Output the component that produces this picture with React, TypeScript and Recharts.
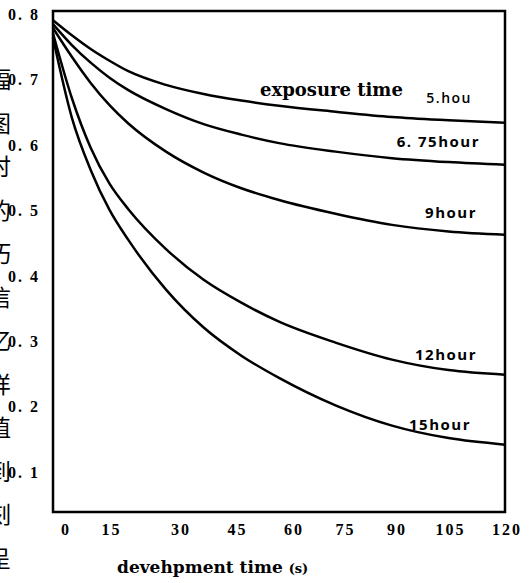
import { LineChart, Line, XAxis, YAxis, ReferenceArea } from 'recharts';

// development time (s)
const TIME_S = [0, 5, 10, 15, 20, 30, 40, 50, 60, 75, 90, 105, 120];

// density, one list per exposure time
const H5 = [0.792, 0.769, 0.748, 0.730, 0.714, 0.693, 0.679, 0.669, 0.661, 0.652, 0.644, 0.639, 0.635];
const H675 = [0.786, 0.754, 0.727, 0.704, 0.685, 0.656, 0.633, 0.617, 0.604, 0.591, 0.581, 0.575, 0.571];
const H9 = [0.780, 0.736, 0.696, 0.662, 0.634, 0.591, 0.559, 0.535, 0.517, 0.496, 0.479, 0.469, 0.464];
const H12 = [0.772, 0.673, 0.597, 0.542, 0.503, 0.442, 0.395, 0.360, 0.331, 0.299, 0.273, 0.257, 0.250];
const H15 = [0.765, 0.643, 0.563, 0.502, 0.456, 0.380, 0.322, 0.279, 0.245, 0.203, 0.172, 0.153, 0.143];

const X_TICKS = [0, 15, 30, 45, 60, 75, 90, 105, 120];
const Y_TICKS = [0.1, 0.2, 0.3, 0.4, 0.5, 0.6, 0.7, 0.8];
const SERIES = ['h5', 'h675', 'h9', 'h12', 'h15'];

// cropped vertical caption at the left edge of the scan
const SIDE_CHARS = ['幅', '图', '时', '的', '巧', '信', '忆', '样', '值', '到', '刻', '呈'];

const data = TIME_S.map((t, i) => ({
  t,
  h5: H5[i],
  h675: H675[i],
  h9: H9[i],
  h12: H12[i],
  h15: H15[i],
}));

const tickFont = {
  fontFamily: '"Liberation Serif", serif',
  fontWeight: 700,
  fontSize: 16,
  letterSpacing: 2,
  fill: '#000',
};

// the printed x labels sit a little right of their ticks
function nudge(v: number) {
  if (v === 0) return 13;
  if (v === 15) return 2;
  if (v <= 60) return 15;
  if (v === 75) return 10;
  if (v === 90) return 5;
  return 2;
}

function XTick({ x, y, payload }: any) {
  const v = payload.value;
  return (
    <text x={x + nudge(v)} y={y + 13} textAnchor="middle" style={tickFont}>
      {v}
    </text>
  );
}

function YTick({ x, y, payload }: any) {
  const label = Number(payload.value).toFixed(1).replace('.', '. ');
  return (
    <text x={x} y={y + 5} textAnchor="end" style={tickFont}>
      {label}
    </text>
  );
}

const hourFont = {
  fontFamily: '"Open Sans", sans-serif',
  fontWeight: 700,
  fontSize: 15,
  letterSpacing: 1.5,
  fill: '#000',
};

export default function App() {
  return (
    <div
      style={{
        position: 'absolute',
        left: 0,
        top: 0,
        width: 529,
        height: 583,
        background: '#fff',
        overflow: 'hidden',
      }}
    >
      <LineChart
        width={529}
        height={583}
        data={data}
        margin={{ top: 11, right: 24, left: 8, bottom: 41 }}
      >
        <XAxis
          dataKey="t"
          type="number"
          domain={[0, 120]}
          ticks={X_TICKS}
          axisLine={false}
          tickLine={false}
          tickSize={0}
          tickMargin={10}
          height={30}
          tick={<XTick />}
          interval={0}
        />
        <YAxis
          type="number"
          domain={[0.04, 0.806]}
          ticks={Y_TICKS}
          allowDataOverflow
          axisLine={false}
          tickLine={false}
          tickSize={0}
          tickMargin={13}
          width={45}
          tick={<YTick />}
          interval={0}
        />
        <ReferenceArea
          x1={0}
          x2={120}
          y1={0.04}
          y2={0.806}
          fill="none"
          stroke="#000"
          strokeWidth={2.5}
        />
        {SERIES.map((key) => (
          <Line
            key={key}
            dataKey={key}
            type="monotone"
            stroke="#000"
            strokeWidth={2.5}
            dot={false}
            activeDot={false}
            isAnimationActive={false}
          />
        ))}
      </LineChart>

      <svg
        width={529}
        height={583}
        style={{ position: 'absolute', left: 0, top: 0, pointerEvents: 'none' }}
      >
        <text
          x={260}
          y={96}
          style={{ fontFamily: '"DejaVu Serif", serif', fontWeight: 700, fontSize: 18, fill: '#000' }}
        >
          exposure time
        </text>
        <text x={472} y={103} textAnchor="end" style={{ ...hourFont, fontWeight: 600, fontSize: 14 }}>
          5.hou
        </text>
        <text x={480} y={147} textAnchor="end" style={hourFont}>
          6. 75hour
        </text>
        <text x={477} y={218} textAnchor="end" style={hourFont}>
          9hour
        </text>
        <text x={477} y={360} textAnchor="end" style={hourFont}>
          12hour
        </text>
        <text x={471} y={430} textAnchor="end" style={hourFont}>
          15hour
        </text>
        <text
          x={117}
          y={573}
          style={{ fontFamily: '"DejaVu Serif", serif', fontWeight: 700, fontSize: 17, fill: '#000' }}
        >
          devehpment time <tspan style={{ fontSize: 13 }}>(s)</tspan>
        </text>
        {SIDE_CHARS.map((c, i) => (
          <text
            key={i}
            x={-12}
            y={88 + i * 43.5}
            style={{ fontFamily: '"Noto Sans CJK SC", sans-serif', fontSize: 23, fill: '#000' }}
          >
            {c}
          </text>
        ))}
      </svg>
    </div>
  );
}
